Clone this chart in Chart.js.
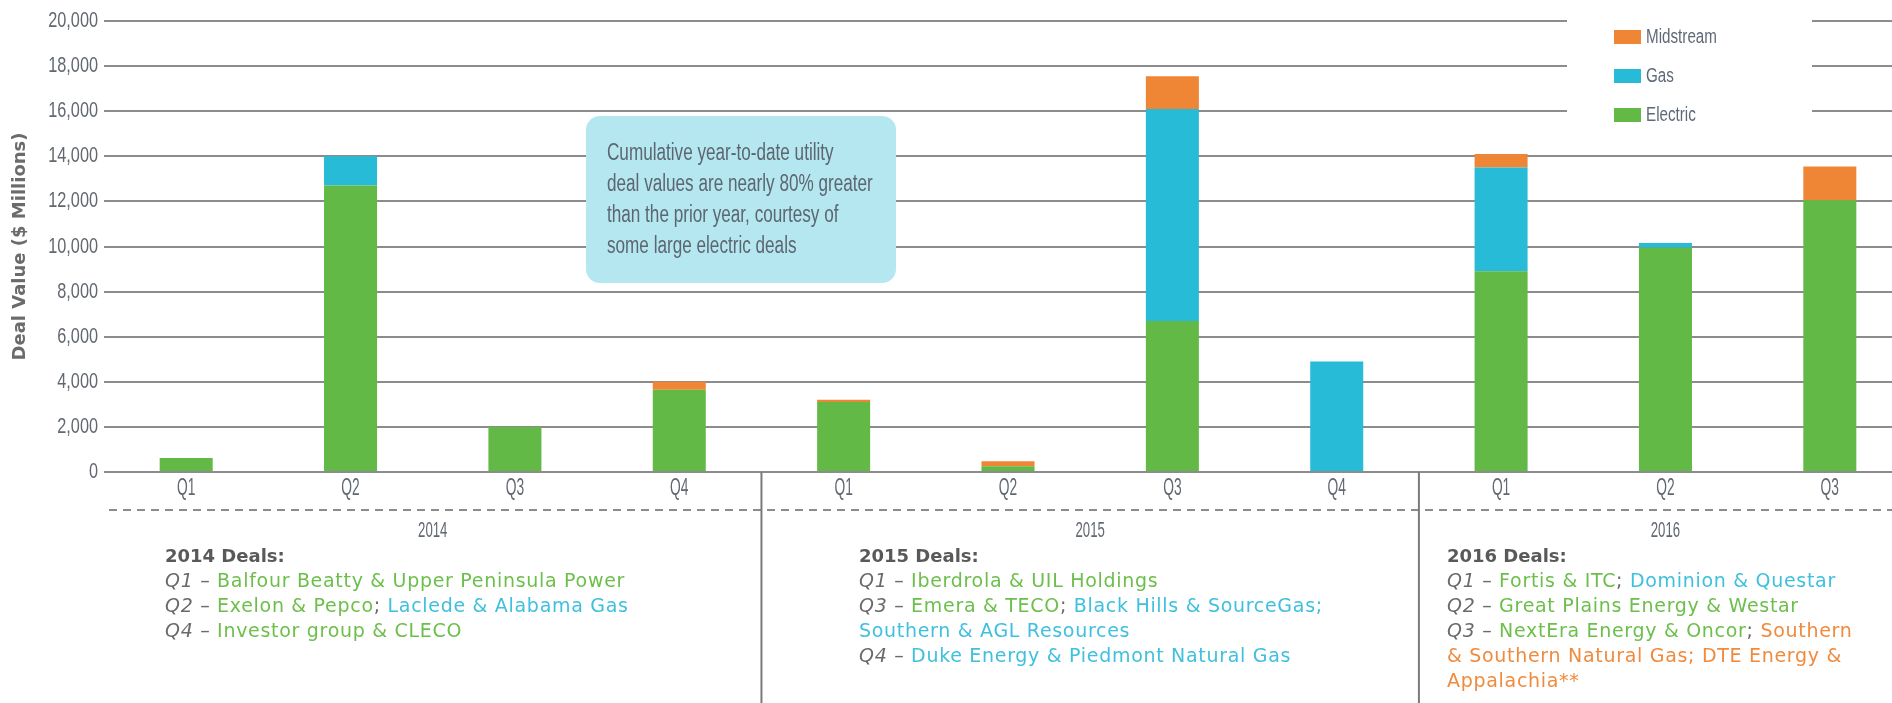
<!DOCTYPE html>
<html>
<head>
<meta charset="utf-8">
<script src="https://cdn.jsdelivr.net/npm/chart.js@4.4.1/dist/chart.umd.min.js"></script>
<style>
  html, body { margin: 0; padding: 0; background: #fff; overflow: hidden; }
  #wrap { position: relative; width: 1920px; height: 703px; }
</style>
</head>
<body>
<div id="wrap"><canvas id="dealChart"></canvas></div>
<script>
// quarters and deal values ($ millions)
const quarters = ["Q1", "Q2", "Q3", "Q4", "Q1", "Q2", "Q3", "Q4", "Q1", "Q2", "Q3"];
const years = ["2014", "2015", "2016"];
const quartersPerYear = [4, 4, 3];
const electric  = [620, 12700, 2000, 3650, 3100, 250, 6700, 0, 8900, 9950, 12050];
const gas       = [0, 1300, 0, 0, 0, 0, 9400, 4900, 4600, 200, 0];
const midstream = [0, 0, 0, 350, 100, 230, 1450, 0, 600, 0, 1500];
const yTicks = [0, 2000, 4000, 6000, 8000, 10000, 12000, 14000, 16000, 18000, 20000];

const calloutLines = [
  "Cumulative year-to-date utility",
  "deal values are nearly 80% greater",
  "than the prior year, courtesy of",
  "some large electric deals"
];

// deal notes: [text, kind]  q = quarter tag, d = dash, e/g/m = electric/gas/midstream
const dealNotes = [
  { title: "2014 Deals:", lines: [
    [["Q1", "q"], [" – ", "d"], ["Balfour Beatty & Upper Peninsula Power", "e"]],
    [["Q2", "q"], [" – ", "d"], ["Exelon & Pepco", "e"], ["; ", "d"], ["Laclede & Alabama Gas", "g"]],
    [["Q4", "q"], [" – ", "d"], ["Investor group & CLECO", "e"]]
  ]},
  { title: "2015 Deals:", lines: [
    [["Q1", "q"], [" – ", "d"], ["Iberdrola & UIL Holdings", "e"]],
    [["Q3", "q"], [" – ", "d"], ["Emera & TECO", "e"], ["; ", "d"], ["Black Hills & SourceGas;", "g"]],
    [["Southern & AGL Resources", "g"]],
    [["Q4", "q"], [" – ", "d"], ["Duke Energy & Piedmont Natural Gas", "g"]]
  ]},
  { title: "2016 Deals:", lines: [
    [["Q1", "q"], [" – ", "d"], ["Fortis & ITC", "e"], ["; ", "d"], ["Dominion & Questar", "g"]],
    [["Q2", "q"], [" – ", "d"], ["Great Plains Energy & Westar", "e"]],
    [["Q3", "q"], [" – ", "d"], ["NextEra Energy & Oncor", "e"], ["; ", "d"], ["Southern", "m"]],
    [["& Southern Natural Gas; DTE Energy &", "m"]],
    [["Appalachia**", "m"]]
  ]}
];

const colors = { electric: "#62b946", gas: "#27bbd7", midstream: "#ef8636" };
const noteColors = { q: "#6a6a6a", d: "#6a6a6a", e: "#6cbf4a", g: "#3ec0de", m: "#f08a3c" };
const sans = '"Liberation Sans", Arial, sans-serif';
const wide = '"DejaVu Sans", "Noto Sans", sans-serif';
const gridColor = "#8c8c8c";
const labelColor = "#62686f";

// no condensed face is installed, so squeeze plain text horizontally
function squeezed(ctx, txt, x, y, sx) {
  ctx.save();
  ctx.translate(x, y);
  ctx.scale(sx, 1);
  ctx.fillText(txt, 0, 0);
  ctx.restore();
}

function roundRect(ctx, x, y, w, h, r) {
  ctx.beginPath();
  ctx.moveTo(x + r, y);
  ctx.arcTo(x + w, y, x + w, y + h, r);
  ctx.arcTo(x + w, y + h, x, y + h, r);
  ctx.arcTo(x, y + h, x, y, r);
  ctx.arcTo(x, y, x + w, y, r);
  ctx.closePath();
}

const annotations = {
  id: "annotations",
  afterDatasetsDraw(chart) {
    const ctx = chart.ctx;
    const x = chart.scales.x;
    const y = chart.scales.y;
    const area = chart.chartArea;
    const step = x.getPixelForValue(1) - x.getPixelForValue(0);
    ctx.save();
    ctx.textBaseline = "middle";

    // axis tick labels, condensed, at the scales' own positions
    ctx.fillStyle = labelColor;
    ctx.font = "22px " + sans;
    ctx.textAlign = "right";
    y.ticks.forEach(t => squeezed(ctx, t.value.toLocaleString("en-US"), area.left - 6, y.getPixelForValue(t.value), 0.74));
    ctx.font = "23px " + sans;
    ctx.textAlign = "center";
    quarters.forEach((q, i) => squeezed(ctx, q, x.getPixelForValue(i), 489, 0.6));

    // dashed line under quarter labels
    ctx.strokeStyle = gridColor;
    ctx.lineWidth = 2;
    ctx.setLineDash([8, 6]);
    ctx.beginPath();
    ctx.moveTo(area.left + 5, 510);
    ctx.lineTo(chart.width, 510);
    ctx.stroke();
    ctx.setLineDash([]);

    // year dividers, year labels and deal notes
    let start = 0;
    let groupLeft = area.left;
    const noteX = [165, 859, 1447];
    years.forEach((yr, i) => {
      const end = start + quartersPerYear[i] - 1;
      const groupRight = i < years.length - 1 ? x.getPixelForValue(end) + step / 2 : area.right;
      if (i < years.length - 1) {
        ctx.strokeStyle = "#7a7a7a";
        ctx.lineWidth = 2;
        ctx.beginPath();
        ctx.moveTo(groupRight, area.bottom);
        ctx.lineTo(groupRight, chart.height);
        ctx.stroke();
      }
      ctx.fillStyle = labelColor;
      ctx.font = "22px " + sans;
      ctx.textAlign = "center";
      squeezed(ctx, yr, (groupLeft + groupRight) / 2, 531, 0.6);

      const note = dealNotes[i];
      ctx.textAlign = "left";
      ctx.fillStyle = "#595959";
      ctx.letterSpacing = "0px";
      ctx.font = "bold 18px " + wide;
      ctx.fillText(note.title, noteX[i], 557);
      ctx.letterSpacing = "0.7px";
      note.lines.forEach((line, j) => {
        let tx = noteX[i];
        line.forEach(([txt, kind]) => {
          ctx.font = (kind === "q" ? "italic " : "") + "19px " + wide;
          ctx.fillStyle = noteColors[kind];
          ctx.fillText(txt, tx, 582 + j * 25);
          tx += ctx.measureText(txt).width;
        });
      });
      ctx.letterSpacing = "0px";

      start = end + 1;
      groupLeft = groupRight;
    });

    // callout box
    ctx.fillStyle = "#b4e7f0";
    roundRect(ctx, 586, 116, 310, 167, 14);
    ctx.fill();
    ctx.fillStyle = "#5d6670";
    ctx.font = "23px " + sans;
    ctx.textAlign = "left";
    calloutLines.forEach((t, i) => squeezed(ctx, t, 607, 154 + i * 31, 0.745));

    // legend (top to bottom: Midstream, Gas, Electric)
    ctx.fillStyle = "#fff";
    ctx.fillRect(1567, 0, 245, 132);
    const items = chart.data.datasets.slice().reverse();
    items.forEach((ds, i) => {
      const cy = 37 + i * 39;
      ctx.fillStyle = ds.backgroundColor;
      ctx.fillRect(1614, cy - 7, 27, 14);
      ctx.fillStyle = "#5f6a77";
      ctx.font = "20px " + sans;
      squeezed(ctx, ds.label, 1646, cy, 0.76);
    });
    ctx.restore();
  }
};

new Chart(document.getElementById("dealChart"), {
  type: "bar",
  data: {
    labels: quarters,
    datasets: [
      { label: "Electric", data: electric, backgroundColor: colors.electric },
      { label: "Gas", data: gas, backgroundColor: colors.gas },
      { label: "Midstream", data: midstream, backgroundColor: colors.midstream }
    ]
  },
  options: {
    responsive: true,
    maintainAspectRatio: false,
    animation: false,
    layout: { padding: { top: 21, right: 8, bottom: 0, left: 0 } },
    datasets: { bar: { categoryPercentage: 1, barPercentage: 0.3225 } },
    plugins: { legend: { display: false }, tooltip: { enabled: false } },
    scales: {
      x: {
        stacked: true,
        grid: { display: false },
        border: { display: false },
        ticks: { display: false },
        afterFit: (scale) => { scale.height = 231; }
      },
      y: {
        stacked: true,
        min: 0,
        max: 20000,
        afterBuildTicks: (scale) => { scale.ticks = yTicks.map(v => ({ value: v })); },
        grid: { color: gridColor, lineWidth: 2, drawTicks: false },
        border: { display: false },
        ticks: { display: false },
        title: {
          display: true,
          text: "Deal Value ($ Millions)",
          color: "#6b6b6b",
          font: { family: wide, size: 18, weight: "bold" },
          padding: { top: 10, bottom: 0 }
        },
        afterFit: (scale) => { scale.width = 104; }
      }
    }
  },
  plugins: [annotations]
});
</script>
</body>
</html>
